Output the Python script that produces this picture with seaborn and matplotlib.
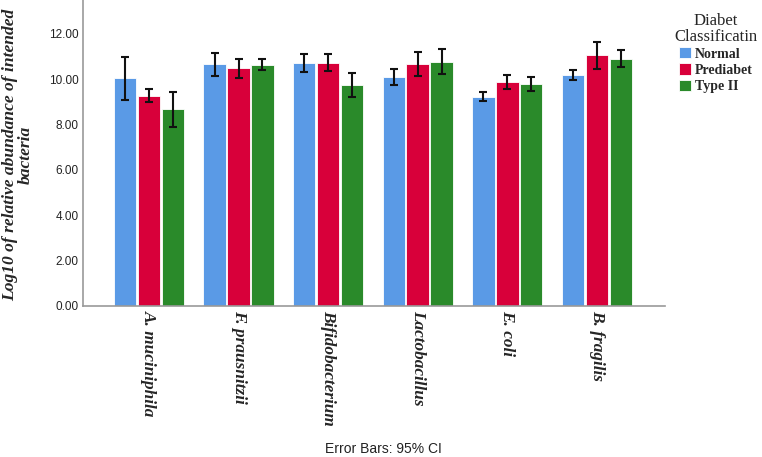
import matplotlib
matplotlib.use("Agg")
import matplotlib.pyplot as plt
import seaborn as sns
import pandas as pd
import numpy as np

categories = ["A. muciniphila", "F. prausnitzii", "Bifidobacterium",
              "Lactobacillus", "E. coli", "B. fragilis"]
groups = ["Normal", "Prediabet", "Type II"]

normal_mean = [10.04, 10.66, 10.73, 10.09, 9.22, 10.19]
normal_lo = [9.11, 10.14, 10.34, 9.73, 9.04, 9.96]
normal_hi = [11.00, 11.18, 11.13, 10.44, 9.44, 10.41]

prediabet_mean = [9.28, 10.48, 10.73, 10.66, 9.87, 11.06]
prediabet_lo = [8.99, 10.07, 10.37, 10.13, 9.56, 10.47]
prediabet_hi = [9.59, 10.90, 11.12, 11.20, 10.19, 11.65]

type2_mean = [8.68, 10.63, 9.73, 10.76, 9.78, 10.88]
type2_lo = [7.91, 10.39, 9.23, 10.22, 9.47, 10.53]
type2_hi = [9.44, 10.88, 10.26, 11.35, 10.10, 11.28]

yticks = [0, 2, 4, 6, 8, 10, 12]

colors = ["#5A9AE6", "#D8003A", "#2A8A2A"]

means = [normal_mean, prediabet_mean, type2_mean]
los = [normal_lo, prediabet_lo, type2_lo]
his = [normal_hi, prediabet_hi, type2_hi]

rows = []
for g, m, lo, hi in zip(groups, means, los, his):
    for c, mv, l, h in zip(categories, m, lo, hi):
        rows.append({"Bacteria": c, "Group": g, "Value": mv, "Lo": l, "Hi": h})
df = pd.DataFrame(rows)

sns.set_style("white")
fig = plt.figure(figsize=(7.62, 4.57), dpi=100)
ax = fig.add_axes([83 / 762, 151 / 457, (665 - 83) / 762, 306 / 457])

sns.barplot(data=df, x="Bacteria", y="Value", hue="Group", order=categories,
            hue_order=groups, palette=colors, errorbar=None, width=0.8,
            gap=0.06, ax=ax, edgecolor="#FFFFFF", linewidth=0.6, saturation=1)

# error bars at bar centers
bar_containers = list(ax.containers)[:len(groups)]
for gi, container in enumerate(bar_containers):
    sub = df[df["Group"] == groups[gi]].set_index("Bacteria").loc[categories]
    xs = [p.get_x() + p.get_width() / 2 for p in container.patches]
    yv = sub["Value"].values
    err = np.vstack([yv - sub["Lo"].values, sub["Hi"].values - yv])
    ax.errorbar(xs, yv, yerr=err, fmt="none", ecolor="#111111",
                elinewidth=1.5, capsize=2.6, capthick=1.5, zorder=5)

ax.set_xlim(-0.736, 5.76)
ax.set_ylim(0, 13.5)
ax.set_yticks(yticks)
ax.set_yticklabels([f"{v:.2f}" for v in yticks], fontsize=8.5,
                   family="Liberation Sans", color="#222222")
ax.set_xticks(range(len(categories)))
ax.set_xticklabels(categories, rotation=270, family="Liberation Serif",
                   fontweight="bold", fontstyle="italic", fontsize=12.4,
                   va="top", ha="center")
ax.tick_params(axis="both", length=0, pad=3)
ax.set_xlabel("")
ax.set_ylabel("Log10 of relative abundance of intended\nbacteria",
              family="Liberation Serif", fontweight="bold", fontstyle="italic",
              fontsize=12.6, linespacing=0.95)
ax.yaxis.set_label_coords(-0.085, 0.494)
for s in ["top", "right"]:
    ax.spines[s].set_visible(False)
for s in ["left", "bottom"]:
    ax.spines[s].set_color("#999999")
    ax.spines[s].set_linewidth(1.2)

handles, labels = ax.get_legend_handles_labels()
if ax.get_legend() is not None:
    ax.get_legend().remove()
leg = fig.legend(handles, labels, title="Diabet\nClassificatin",
                 loc="upper left", bbox_to_anchor=(669 / 762, 1 - 7 / 457),
                 frameon=False, handlelength=0.85, handleheight=0.85,
                 handletextpad=0.3, labelspacing=0.2, borderaxespad=0,
                 alignment="center",
                 prop={"family": "Liberation Serif", "weight": "bold", "size": 10},
                 title_fontproperties={"family": "Liberation Serif", "size": 12})
leg.get_title().set_multialignment("center")
leg.get_title().set_linespacing(1.0)

fig.text(383 / 762, 8 / 457, "Error Bars: 95% CI", ha="center", va="center",
         family="Liberation Sans", fontsize=10, color="#222222")

fig.savefig("out.png", dpi=100)
